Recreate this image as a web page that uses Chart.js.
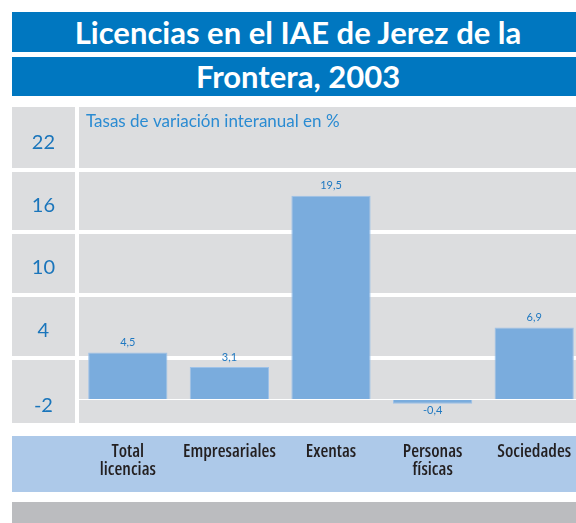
<!DOCTYPE html>
<html>
<head>
<meta charset="utf-8">
<script src="https://cdn.jsdelivr.net/npm/chart.js@4"></script>
<style>
  html, body { margin: 0; padding: 0; background: #fff; overflow: hidden; }
  body { width: 576px; height: 523px; position: relative; }
  #grafico { position: absolute; left: 0; top: 0; }
  .banda {
    position: absolute; left: 12px; width: 564px;
    background: #0077c0; color: #fff;
    font-family: Lato, sans-serif; font-weight: bold; font-size: 31px;
    text-align: center; text-indent: 8px;
  }
  #t1 { top: 12px; height: 40px; line-height: 40px; }
  #t2 { top: 57px; height: 39px; line-height: 39px; }
</style>
</head>
<body>
<canvas id="grafico" width="590" height="523"></canvas>
<div class="banda" id="t1">Licencias en el IAE de Jerez de la</div>
<div class="banda" id="t2">Frontera, 2003</div>
<script>
const categorias = [['Total', 'licencias'], 'Empresariales', 'Exentas', ['Personas', 'físicas'], 'Sociedades'];
const tasas = [4.5, 3.1, 19.5, -0.4, 6.9];
const marcasY = [-2, 4, 10, 16, 22];
const subtitulo = 'Tasas de variación interanual en %';

// bandas de fondo: panel gris, franja azul de categorías y pie gris
const fondos = {
  id: 'fondos',
  beforeDraw(chart) {
    const { ctx, chartArea } = chart;
    const x0 = chart.scales.y.left;
    const w = chart.width - x0;
    ctx.save();
    ctx.fillStyle = '#dcdddf';
    ctx.fillRect(x0, chartArea.top, w, chartArea.bottom - chartArea.top);
    ctx.fillStyle = '#adc9e9';
    ctx.fillRect(x0, chartArea.bottom + 13, w, 56);
    ctx.fillStyle = '#bbbcbf';
    ctx.fillRect(x0, chartArea.bottom + 79, w, chart.height - chartArea.bottom - 79);
    ctx.restore();
  }
};

// subtítulo y valores de cada barra
const rotulos = {
  id: 'rotulos',
  afterDatasetsDraw(chart) {
    const { ctx, chartArea } = chart;
    ctx.save();
    ctx.fillStyle = '#2a8bd2';
    ctx.font = '17px Lato';
    ctx.textAlign = 'left';
    ctx.textBaseline = 'alphabetic';
    ctx.fillText(subtitulo, chartArea.left + 9, chartArea.top + 20);

    ctx.font = '11px Lato';
    ctx.fillStyle = '#1f78c1';
    ctx.textAlign = 'center';
    ctx.textBaseline = 'middle';
    chart.getDatasetMeta(0).data.forEach((bar, i) => {
      const v = tasas[i];
      const txt = String(v).replace('.', ',');
      ctx.fillText(txt, bar.x, v >= 0 ? bar.y - 10 : bar.y + 7);
    });
    ctx.restore();
  }
};

new Chart(document.getElementById('grafico'), {
  type: 'bar',
  data: {
    labels: categorias,
    datasets: [{
      data: tasas,
      backgroundColor: '#7aacdd',
      borderColor: '#9ec2e8',
      borderWidth: 1,
      barPercentage: 0.78,
      categoryPercentage: 1
    }]
  },
  options: {
    responsive: false,
    animation: false,
    layout: { padding: { top: 107, left: 12, right: 5, bottom: 0 } },
    plugins: { legend: { display: false }, tooltip: { enabled: false } },
    scales: {
      x: {
        afterFit: s => { s.height = 100; },
        border: { display: false },
        grid: { display: false },
        ticks: {
          color: '#231f20',
          // ancho estrecho de Open Sans (eje wdth)
          font: { family: '"Open Sans", sans-serif', size: 18, weight: 'condensed 600', lineHeight: 1.0 },
          padding: 12,
          maxRotation: 0,
          autoSkip: false
        }
      },
      y: {
        min: -2.25,
        max: 28,
        afterBuildTicks: s => { s.ticks = [marcasY[0], 0, ...marcasY.slice(1)].map(v => ({ value: v })); },
        afterFit: s => { s.width = 65; },
        border: { color: '#fff', width: 4 },
        grid: {
          color: c => (c.tick && c.tick.value === -2) ? 'rgba(0,0,0,0)' : '#fff',
          lineWidth: c => (c.tick && c.tick.value === 0) ? 1 : 4,
          tickColor: c => (c.tick && (c.tick.value === 0 || c.tick.value === -2)) ? 'rgba(0,0,0,0)' : '#fff',
          tickLength: 65
        },
        ticks: {
          padding: -43,
          crossAlign: 'center',
          labelOffset: -27,
          color: '#1a75bb',
          font: { family: 'Lato', size: 20, lineHeight: 1.2 },
          // la etiqueta inferior queda más baja dentro de su franja
          callback: v => v === 0 ? '' : (v === -2 ? ['', '-2'] : String(v))
        }
      }
    }
  },
  plugins: [fondos, rotulos]
});
</script>
</body>
</html>
